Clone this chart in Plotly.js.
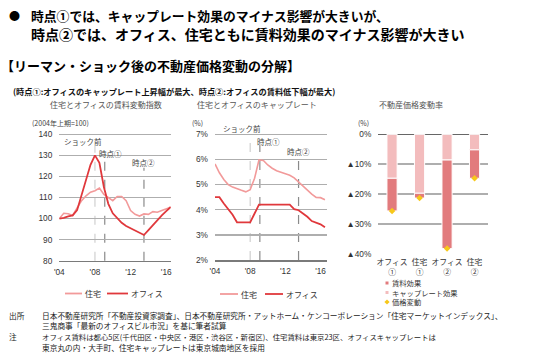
<!DOCTYPE html>
<html><head><meta charset="utf-8">
<script src="https://cdn.plot.ly/plotly-3.0.1.min.js"></script>
<style>html,body{margin:0;padding:0;background:#fff;}#c{width:536px;height:361px;}</style>
</head><body><div id="c"></div>
<script>
// ---- data ----
const halfYears = [2004,2004.5,2005,2005.5,2006,2006.5,2007,2007.5,2008,2008.5,2009,2009.5,2010,2010.5,2011,2011.5,2012,2012.5,2013,2013.5,2014,2014.5,2015,2015.5,2016,2016.5];
const rentHousing = [100,102.5,102.3,101.5,105,108.5,110.8,112.5,113.2,114.5,111.5,109.8,108.5,110.5,110.5,108.5,103.8,102,101.2,102.2,102,103.3,103,103.8,104.5,105.4];
const rentOffice  = [100,100.3,101,101.5,104,111,118.5,125.5,130,126.5,115,107,102.5,100,98,96.5,95.5,94.3,93.2,92.2,94.5,97,99.5,101.5,103.5,105.5];
const capHousing = [5.82,5.47,5.2,5.0,4.9,4.82,4.77,4.71,4.8,5.25,5.98,5.96,5.78,5.65,5.55,5.49,5.44,5.37,5.27,5.1,4.93,4.78,4.62,4.49,4.48,4.4];
const capOffice  = [4.5,4.5,4.25,4.02,3.8,3.5,3.5,3.5,3.5,3.85,4.2,4.2,4.2,4.2,4.2,4.2,4.2,4.2,4.02,3.98,3.85,3.72,3.55,3.5,3.42,3.3];
const eventYears = [2008.0, 2009.1, 2013.5];
const eventLabels = ["ショック前", "時点①", "時点②"];
const yearTicks = [2004, 2008, 2012, 2016];
const yearTickText = ["'04", "'08", "'12", "'16"];
const rentTicks = [80, 90, 100, 110, 120, 130, 140];
const capTicks = [2, 3, 4, 5, 6, 7];
const capTickText = ["2%", "3%", "4%", "5%", "6%", "7%"];
const barCats = ["オフィス<br>①", "住宅<br>①", "オフィス<br>②", "住宅<br>②"];
const capEffect  = [-14.7, -19.7, -8.6, -5.2];
const rentEffect = [-10.9, -1.6, -29.6, -9.5];
const priceChange = [-25.6, -21.3, -38.2, -14.7];
const pctTicks = [0, -10, -20, -30, -40];
const pctTickText = ["0%", "▲10%", "▲20%", "▲30%", "▲40%"];

// ---- style ----
const W = 536, H = 361;
const FONT = "Liberation Sans, Arial, Noto Sans CJK JP, sans-serif";
const JP = "Noto Sans CJK JP, sans-serif";
const cLight = "#f29a9a", cDark = "#e0383c";
const barLight = "#f3bcbd", barDark = "#e27b7d", yellow = "#f7c81a";
const grid = "#aeaeae";
const px = (x) => x / W, py = (y) => 1 - y / H;

const traces = [
  {x: halfYears, y: rentHousing, type: "scatter", mode: "lines", xaxis: "x", yaxis: "y", line: {color: cLight, width: 1.6}, name: "住宅"},
  {x: halfYears, y: rentOffice, type: "scatter", mode: "lines", xaxis: "x", yaxis: "y", line: {color: cDark, width: 1.8}, name: "オフィス"},
  {x: halfYears, y: capHousing, type: "scatter", mode: "lines", xaxis: "x2", yaxis: "y2", line: {color: cLight, width: 1.6}, name: "住宅"},
  {x: halfYears, y: capOffice, type: "scatter", mode: "lines", xaxis: "x2", yaxis: "y2", line: {color: cDark, width: 1.8}, name: "オフィス"},
  {x: barCats, y: capEffect, type: "bar", xaxis: "x3", yaxis: "y3", width: 0.37, marker: {color: barLight, line: {color: "#fff", width: 1}}, name: "キャップレート効果"},
  {x: barCats, y: rentEffect, type: "bar", xaxis: "x3", yaxis: "y3", width: 0.37, marker: {color: barDark, line: {color: "#fff", width: 1}}, name: "賃料効果"},
  {x: barCats, y: priceChange, type: "scatter", mode: "markers", xaxis: "x3", yaxis: "y3", marker: {symbol: "diamond", size: 5, color: yellow}, name: "価格変動"}
];

const tickFont = {family: FONT, size: 8.3, color: "#333"};
const layout = {
  width: W, height: H, margin: {l: 0, r: 0, t: 0, b: 0},
  paper_bgcolor: "#fff", plot_bgcolor: "rgba(0,0,0,0)",
  showlegend: false, barmode: "relative",
  font: {family: FONT, size: 8, color: "#333"},
  xaxis: {domain: [px(59.3), px(170.7)], range: [2004, 2016.5], anchor: "y", tickvals: yearTicks, ticktext: yearTickText, showgrid: false, zeroline: false, showline: true, linecolor: "#7a7a7a", linewidth: 1.5, ticks: "", tickfont: tickFont, ticklabelstandoff: 3},
  yaxis: {domain: [py(260.7), py(133.25)], range: [80, 140.5], anchor: "x", tickvals: rentTicks, showgrid: true, gridcolor: grid, gridwidth: 1.5, zeroline: false, showline: false, ticks: "", tickfont: tickFont, ticklabelstandoff: 6},
  xaxis2: {domain: [px(215), px(326.7)], range: [2004, 2016.7], anchor: "y2", tickvals: yearTicks, ticktext: yearTickText, showgrid: false, zeroline: false, showline: true, linecolor: "#7a7a7a", linewidth: 1.5, ticks: "", tickfont: tickFont, ticklabelstandoff: 3},
  yaxis2: {domain: [py(260), py(133.04)], range: [2, 7.05], anchor: "x2", tickvals: capTicks, ticktext: capTickText, showgrid: true, gridcolor: grid, gridwidth: 1.5, zeroline: false, showline: false, ticks: "", tickfont: tickFont, ticklabelstandoff: 6},
  xaxis3: {domain: [px(378.3), px(488.3)], anchor: "y3", type: "category", showgrid: false, zeroline: false, showline: false, ticks: "", tickfont: {family: FONT, size: 7.8, color: "#333"}, ticklabelstandoff: 1},
  yaxis3: {domain: [py(254.9), py(133.4)], range: [-40.3, 0.3], anchor: "x3", tickvals: pctTicks, ticktext: pctTickText, showgrid: true, gridcolor: grid, gridwidth: 1.5, zeroline: true, zerolinecolor: "#666", zerolinewidth: 1.5, showline: false, ticks: "", tickfont: tickFont, ticklabelstandoff: 6},
  shapes: [],
  annotations: []
};

// event dashed lines
const ev1Tops = [0.9, 0.8, 0.73];
const ev2Tops = [0.97, 0.905, 0.83];
const evColors = ["#cfcfcf", "#8a8a8a", "#8a8a8a"];
eventYears.forEach((yr, i) => {
  layout.shapes.push({type: "line", xref: "x", yref: "y domain", x0: yr, x1: yr, y0: 0, y1: ev1Tops[i], line: {color: evColors[i], width: 1.2, dash: "dash"}, layer: "below"});
  layout.shapes.push({type: "line", xref: "x2", yref: "y2 domain", x0: yr, x1: yr, y0: 0, y1: ev2Tops[i], line: {color: evColors[i], width: 1.2, dash: "dash"}, layer: "below"});
});

function txt(text, x, y, size, opts) {
  opts = opts || {};
  layout.annotations.push(Object.assign({
    text: text, xref: "paper", yref: "paper", x: px(x), y: py(y),
    xanchor: opts.xanchor || "left", yanchor: "middle", showarrow: false, borderpad: 0,
    font: {family: opts.family || JP, size: size, color: opts.color || "#222"}
  }, opts.extra || {}));
}
// headings
txt("●", 8, 15, 11, {color: "#000"});
txt("<b>時点①では、キャップレート効果のマイナス影響が大きいが、</b>", 30, 15, 12.8, {color: "#000"});
txt("<b>時点②では、オフィス、住宅ともに賃料効果のマイナス影響が大きい</b>", 30, 33.5, 14, {color: "#000"});
txt("<b>【リーマン・ショック後の不動産価格変動の分解】</b>", 0, 65, 13, {color: "#000"});
txt("<b>(時点①:オフィスのキャップレート上昇幅が最大、時点②:オフィスの賃料低下幅が最大)</b>", 12, 91, 8.2, {color: "#111"});
// chart titles
txt("住宅とオフィスの賃料変動指数", 106, 104.5, 8, {xanchor: "center", color: "#555"});
txt("住宅とオフィスのキャップレート", 256.5, 104.5, 8, {xanchor: "center", color: "#555"});
txt("不動産価格変動率", 411, 104.5, 8, {xanchor: "center", color: "#555"});
// units
txt("(2004年上期=100)", 31, 123.5, 7, {color: "#444"});
txt("(%)", 191, 123.5, 7, {color: "#444"});
txt("(%)", 357, 123.5, 7, {color: "#444"});
// event labels
const ev1Pos = [[83, 141.5], [110.5, 153.3], [143, 162.7]];
const ev2Pos = [[241.7, 128.3], [268, 141.7], [298, 151.7]];
eventLabels.forEach((t, i) => {
  txt(t, ev1Pos[i][0], ev1Pos[i][1], 7.5, {xanchor: "center", color: "#444"});
  txt(t, ev2Pos[i][0], ev2Pos[i][1], 7.5, {xanchor: "center", color: "#444"});
});
// legends chart 1 & 2
function lineLeg(x0, x1, y, color, label) {
  layout.shapes.push({type: "line", xref: "paper", yref: "paper", x0: px(x0), x1: px(x1), y0: py(y), y1: py(y), line: {color: color, width: 1.8}});
  txt(label, x1 + 2, y, 8, {color: "#333"});
}
lineLeg(65, 82, 293.5, cLight, "住宅");
lineLeg(107, 128, 293.5, cDark, "オフィス");
lineLeg(220, 238, 294, cLight, "住宅");
lineLeg(265, 283, 294, cDark, "オフィス");
// legend chart 3
function sq(x, y, s, color) {
  layout.shapes.push({type: "rect", xref: "paper", yref: "paper", x0: px(x - s/2), x1: px(x + s/2), y0: py(y + s/2), y1: py(y - s/2), fillcolor: color, line: {width: 0}});
}
sq(387, 283, 3, barDark); txt("賃料効果", 391, 283, 7.3, {color: "#333"});
sq(387, 292.5, 3, barLight); txt("キャップレート効果", 391, 292.5, 7.3, {color: "#333"});
(function(){
  const cx = 387, cy = 302, r = 2.6;
  const P = (x, y) => `${px(x)} ${py(y)}`;
  layout.shapes.push({type: "path", xref: "paper", yref: "paper", path: `M ${P(cx, cy - r)} L ${P(cx + r, cy)} L ${P(cx, cy + r)} L ${P(cx - r, cy)} Z`, fillcolor: yellow, line: {width: 0}});
})();
txt("価格変動", 391, 302, 7.3, {color: "#333"});
// footer
txt("出所", 8, 315, 7.7);
txt("日本不動産研究所「不動産投資家調査」、日本不動産研究所・アットホーム・ケンコーポレーション「住宅マーケットインデックス」、", 41, 315, 7.7);
txt("三鬼商事「最新のオフィスビル市況」を基に筆者試算", 41, 325.5, 7.7);
txt("注", 8, 336.5, 7.7);
txt("オフィス賃料は都心5区(千代田区・中央区・港区・渋谷区・新宿区)、住宅賃料は東京23区、オフィスキャップレートは", 41, 336.5, 7.4);
txt("東京丸の内・大手町、住宅キャップレートは東京城南地区を採用", 41, 347, 7.7);

Plotly.newPlot("c", traces, layout, {staticPlot: true, displayModeBar: false});
</script>
</body></html>
